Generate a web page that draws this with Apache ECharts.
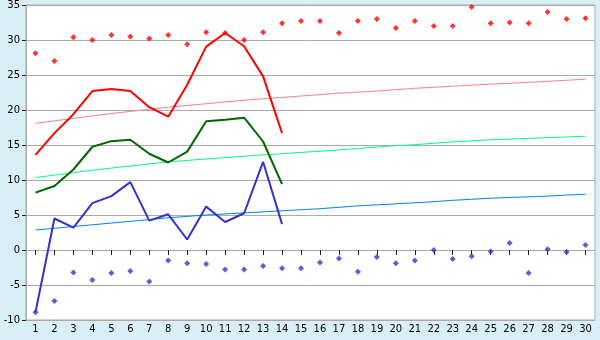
<!DOCTYPE html>
<html>
<head>
<meta charset="utf-8">
<script src="https://cdn.jsdelivr.net/npm/echarts@6/dist/echarts.min.js"></script>
<style>
html,body{margin:0;padding:0;background:#d9eff6;}
#c{width:600px;height:340px;}
</style>
</head>
<body>
<div id="c"></div>
<script>
var days = [];
for (var i = 1; i <= 30; i++) days.push(String(i));

var yTicks = [-10, -5, 0, 5, 10, 15, 20, 25, 30, 35];

var maxPoints = [28.1, 27.0, 30.4, 30.0, 30.7, 30.5, 30.2, 30.7, 29.4, 31.1,
                 31.0, 30.0, 31.1, 32.4, 32.7, 32.7, 31.0, 32.7, 33.0, 31.7,
                 32.7, 32.0, 32.0, 34.7, 32.4, 32.5, 32.4, 34.0, 33.0, 33.1];
var minPoints = [-8.9, -7.3, -3.2, -4.3, -3.3, -3.0, -4.5, -1.5, -1.9, -2.0,
                 -2.8, -2.8, -2.3, -2.6, -2.6, -1.8, -1.2, -3.1, -1.0, -1.9,
                 -1.5, 0.0, -1.3, -0.9, -0.2, 1.0, -3.3, 0.1, -0.3, 0.7];

var maxLine = [13.6, 16.7, 19.4, 22.7, 23.0, 22.7, 20.4, 19.05, 23.6, 29.05, 31.0, 29.1, 24.8, 16.7];
var meanLine = [8.2, 9.15, 11.5, 14.75, 15.55, 15.75, 13.75, 12.5, 14.05, 18.4, 18.6, 18.9, 15.5, 9.4];
var minLine = [-8.9, 4.5, 3.2, 6.7, 7.7, 9.7, 4.2, 5.1, 1.5, 6.2, 4.0, 5.25, 12.6, 3.7];

var normMax = [18.1, 18.45, 18.8, 19.15, 19.5, 19.8, 20.1, 20.4, 20.65, 20.9,
               21.15, 21.4, 21.6, 21.8, 22.0, 22.2, 22.4, 22.55, 22.7, 22.9,
               23.1, 23.25, 23.4, 23.55, 23.7, 23.8, 23.95, 24.1, 24.25, 24.4];
var normMean = [10.35, 10.7, 11.05, 11.4, 11.7, 12.0, 12.3, 12.6, 12.8, 13.0,
                13.2, 13.4, 13.6, 13.75, 13.95, 14.1, 14.3, 14.5, 14.7, 14.9,
                15.05, 15.25, 15.45, 15.6, 15.75, 15.85, 15.95, 16.05, 16.15, 16.25];
var normMin = [2.85, 3.1, 3.35, 3.6, 3.85, 4.1, 4.35, 4.6, 4.8, 5.0,
               5.15, 5.3, 5.45, 5.6, 5.75, 5.9, 6.1, 6.3, 6.45, 6.6,
               6.75, 6.9, 7.1, 7.25, 7.4, 7.5, 7.6, 7.7, 7.85, 7.95];

var chart = echarts.init(document.getElementById('c'), null, {renderer: 'canvas'});

function lineSeries(data, color, width, z) {
  return {
    type: 'line', data: data, symbol: 'none', smooth: false, z: z,
    lineStyle: {color: color, width: width}, silent: true, animation: false
  };
}
function scatterSeries(data, color) {
  return {
    type: 'scatter', data: data, symbol: 'diamond', symbolSize: 6, z: 10,
    itemStyle: {color: color}, silent: true, animation: false
  };
}

chart.setOption({
  backgroundColor: '#d9eff6',
  animation: false,
  textStyle: {fontFamily: 'DejaVu Sans'},
  grid: {
    left: 26, right: 5, top: 5, bottom: 20,
    show: true, backgroundColor: '#ffffff', borderColor: '#aaaaaa', borderWidth: 1
  },
  xAxis: {
    type: 'category',
    data: days,
    boundaryGap: true,
    axisLine: {show: true, lineStyle: {color: '#aaaaaa', width: 1}},
    axisTick: {show: true, alignWithLabel: true, length: 5, lineStyle: {color: '#222222'}},
    axisLabel: {color: '#000000', fontSize: 10, fontFamily: 'DejaVu Sans', margin: 4, interval: 0},
    splitLine: {show: false}
  },
  yAxis: {
    type: 'value',
    min: yTicks[0], max: yTicks[yTicks.length - 1], interval: 5,
    axisLine: {show: true, lineStyle: {color: '#aaaaaa', width: 1}},
    axisTick: {show: true, length: 4, lineStyle: {color: '#222222'}},
    axisLabel: {color: '#000000', fontSize: 10, fontFamily: 'DejaVu Sans', margin: 6},
    splitLine: {show: true, lineStyle: {color: '#aaaaaa', width: 1}}
  },
  series: [
    lineSeries(normMax, '#ff8080', 1, 2),
    lineSeries(normMean, '#00ff80', 1, 2),
    lineSeries(normMin, '#0080ff', 1, 2),
    lineSeries(maxLine, '#ff0000', 2, 5),
    lineSeries(meanLine, '#006600', 2, 5),
    lineSeries(minLine, '#3333cc', 2, 5),
    scatterSeries(maxPoints, '#ff0000'),
    scatterSeries(minPoints, '#3333cc')
  ]
});
</script>
</body>
</html>
